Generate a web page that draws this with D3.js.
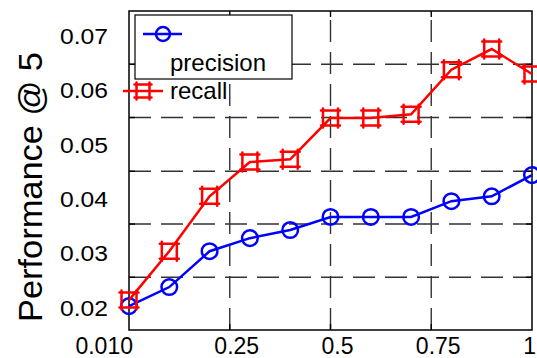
<!DOCTYPE html>
<html>
<head>
<meta charset="utf-8">
<script src="https://cdn.jsdelivr.net/npm/d3@7"></script>
<style>
  body { margin: 0; background: #fff; }
  text { font-family: Arial, "Liberation Sans", sans-serif; fill: #000; }
</style>
</head>
<body>
<div id="app"></div>
<script>
// values
const xs = [0, 0.1, 0.2, 0.3, 0.4, 0.5, 0.6, 0.7, 0.8, 0.9, 1.0]
const precision = [0.0203, 0.0238, 0.0304, 0.0328, 0.0343, 0.0367, 0.0367, 0.0367, 0.0396, 0.0405, 0.0444]
const recall = [0.0214, 0.0304, 0.0405, 0.0468, 0.0473, 0.0549, 0.0549, 0.0556, 0.0638, 0.0676, 0.0630]

const xTicks = [0, 0.25, 0.5, 0.75, 1]
const xTickLabels = ["0.010", "0.25", "0.5", "0.75", "1"]
const yTicks = [0.02, 0.03, 0.04, 0.05, 0.06, 0.07]
// the grid in the figure does not line up with the labels
const yGrid = [0.0256, 0.0354, 0.0451, 0.0550, 0.0648]
const yDomain = [0.0159, 0.0746]

const W = 537, H = 358
const m = { left: 129, right: 5, top: 11, bottom: 28 }

const svg = d3.select("#app").append("svg")
    .attr("width", W)
    .attr("height", H)

const x = d3.scaleLinear().domain([0, 1]).range([m.left, W - m.right])
const y = d3.scaleLinear().domain(yDomain).range([H - m.bottom, m.top])

const [x0, x1] = x.range()
const [y0, y1] = y.range()

// dashed grid
const grid = svg.append("g")
    .attr("stroke", "#333")
    .attr("stroke-width", 1.4)
    .attr("stroke-dasharray", "22,10")
grid.selectAll("line.h")
  .data(yGrid)
  .join("line")
    .attr("class", "h")
    .attr("x1", x0).attr("x2", x1)
    .attr("y1", d => y(d)).attr("y2", d => y(d))
grid.selectAll("line.v")
  .data(xTicks.slice(1, -1))
  .join("line")
    .attr("class", "v")
    .attr("x1", d => x(d)).attr("x2", d => x(d))
    .attr("y1", y0).attr("y2", y1)

// ticks on all four sides, pointing in
const tk = 6
const ticks = svg.append("g").attr("stroke", "#000").attr("stroke-width", 1.4)
xTicks.slice(1, -1).forEach(v => {
  ticks.append("line").attr("x1", x(v)).attr("x2", x(v)).attr("y1", y0).attr("y2", y0 - tk)
  ticks.append("line").attr("x1", x(v)).attr("x2", x(v)).attr("y1", y1).attr("y2", y1 + tk)
})
yGrid.forEach(v => {
  ticks.append("line").attr("x1", x0).attr("x2", x0 + tk).attr("y1", y(v)).attr("y2", y(v))
  ticks.append("line").attr("x1", x1).attr("x2", x1 - tk).attr("y1", y(v)).attr("y2", y(v))
})

// box
svg.append("rect")
    .attr("x", x0).attr("y", y1)
    .attr("width", x1 - x0).attr("height", y0 - y1)
    .attr("fill", "none")
    .attr("stroke", "#000")
    .attr("stroke-width", 1.5)

// tick labels
svg.append("g")
  .selectAll("text")
  .data(yTicks)
  .join("text")
    .attr("x", 108)
    .attr("y", d => y(d))
    .attr("dy", "0.36em")
    .attr("text-anchor", "end")
    .attr("font-size", 22)
    .attr("textLength", 48)
    .attr("lengthAdjust", "spacingAndGlyphs")
    .text(d => d.toFixed(2))

const nX = xTicks.length
svg.append("g")
  .selectAll("text")
  .data(xTicks)
  .join("text")
    .attr("x", (d, i) => i === 0 ? x(d) + 4 : i === nX - 1 ? W - 1 : x(d) + 7)
    .attr("y", H - 4)
    .attr("text-anchor", (d, i) => i === 0 || i === nX - 1 ? "end" : "middle")
    .attr("font-size", 23)
    .text((d, i) => xTickLabels[i])

// y title
svg.append("text")
    .attr("transform", `translate(42,187) rotate(-90)`)
    .attr("text-anchor", "middle")
    .attr("font-size", 33)
    .attr("textLength", 270)
    .attr("lengthAdjust", "spacingAndGlyphs")
    .text("Performance @ 5")

// series
const line = d3.line().x((d, i) => x(xs[i])).y(d => y(d))

function squarePath(cx, cy, s) {
  const h = s / 2, e = 2
  return `M${cx - h},${cy - h - e}V${cy + h + e}M${cx + h},${cy - h - e}V${cy + h + e}` +
    `M${cx - h - e},${cy - h}H${cx + h + e}M${cx - h - e},${cy + h}H${cx + h + e}`
}

svg.append("path")
    .datum(precision)
    .attr("d", line)
    .attr("fill", "none")
    .attr("stroke", "#0000ff")
    .attr("stroke-width", 2.5)
svg.append("g")
  .selectAll("circle")
  .data(precision)
  .join("circle")
    .attr("cx", (d, i) => x(xs[i]))
    .attr("cy", d => y(d))
    .attr("r", 7.8)
    .attr("fill", "none")
    .attr("stroke", "#0000ff")
    .attr("stroke-width", 2.5)

svg.append("path")
    .datum(recall)
    .attr("d", line)
    .attr("fill", "none")
    .attr("stroke", "#ff0000")
    .attr("stroke-width", 2.5)
svg.append("g")
  .selectAll("path")
  .data(recall)
  .join("path")
    .attr("d", (d, i) => squarePath(x(xs[i]), y(d), 15))
    .attr("fill", "none")
    .attr("stroke", "#ff0000")
    .attr("stroke-width", 2.5)
    .attr("stroke-linecap", "round")

// legend (the recall entry spills out under the box, as in the figure)
const lg = svg.append("g")
lg.append("rect")
    .attr("x", 135).attr("y", 15)
    .attr("width", 157).attr("height", 64)
    .attr("fill", "#fff")
    .attr("stroke", "#000")
    .attr("stroke-width", 1.2)
lg.append("line")
    .attr("x1", 143).attr("x2", 182).attr("y1", 34).attr("y2", 34)
    .attr("stroke", "#0000ff").attr("stroke-width", 2.5)
lg.append("circle")
    .attr("cx", 163).attr("cy", 34).attr("r", 7)
    .attr("fill", "none").attr("stroke", "#0000ff").attr("stroke-width", 2.5)
lg.append("text")
    .attr("x", 170).attr("y", 71)
    .attr("font-size", 24)
    .text("precision")
lg.append("line")
    .attr("x1", 123).attr("x2", 163).attr("y1", 91).attr("y2", 91)
    .attr("stroke", "#ff0000").attr("stroke-width", 2.5)
lg.append("path")
    .attr("d", squarePath(143, 91, 13))
    .attr("fill", "none").attr("stroke", "#ff0000").attr("stroke-width", 2.5)
    .attr("stroke-linecap", "round")
lg.append("text")
    .attr("x", 170).attr("y", 99)
    .attr("font-size", 24)
    .text("recall")
</script>
</body>
</html>
